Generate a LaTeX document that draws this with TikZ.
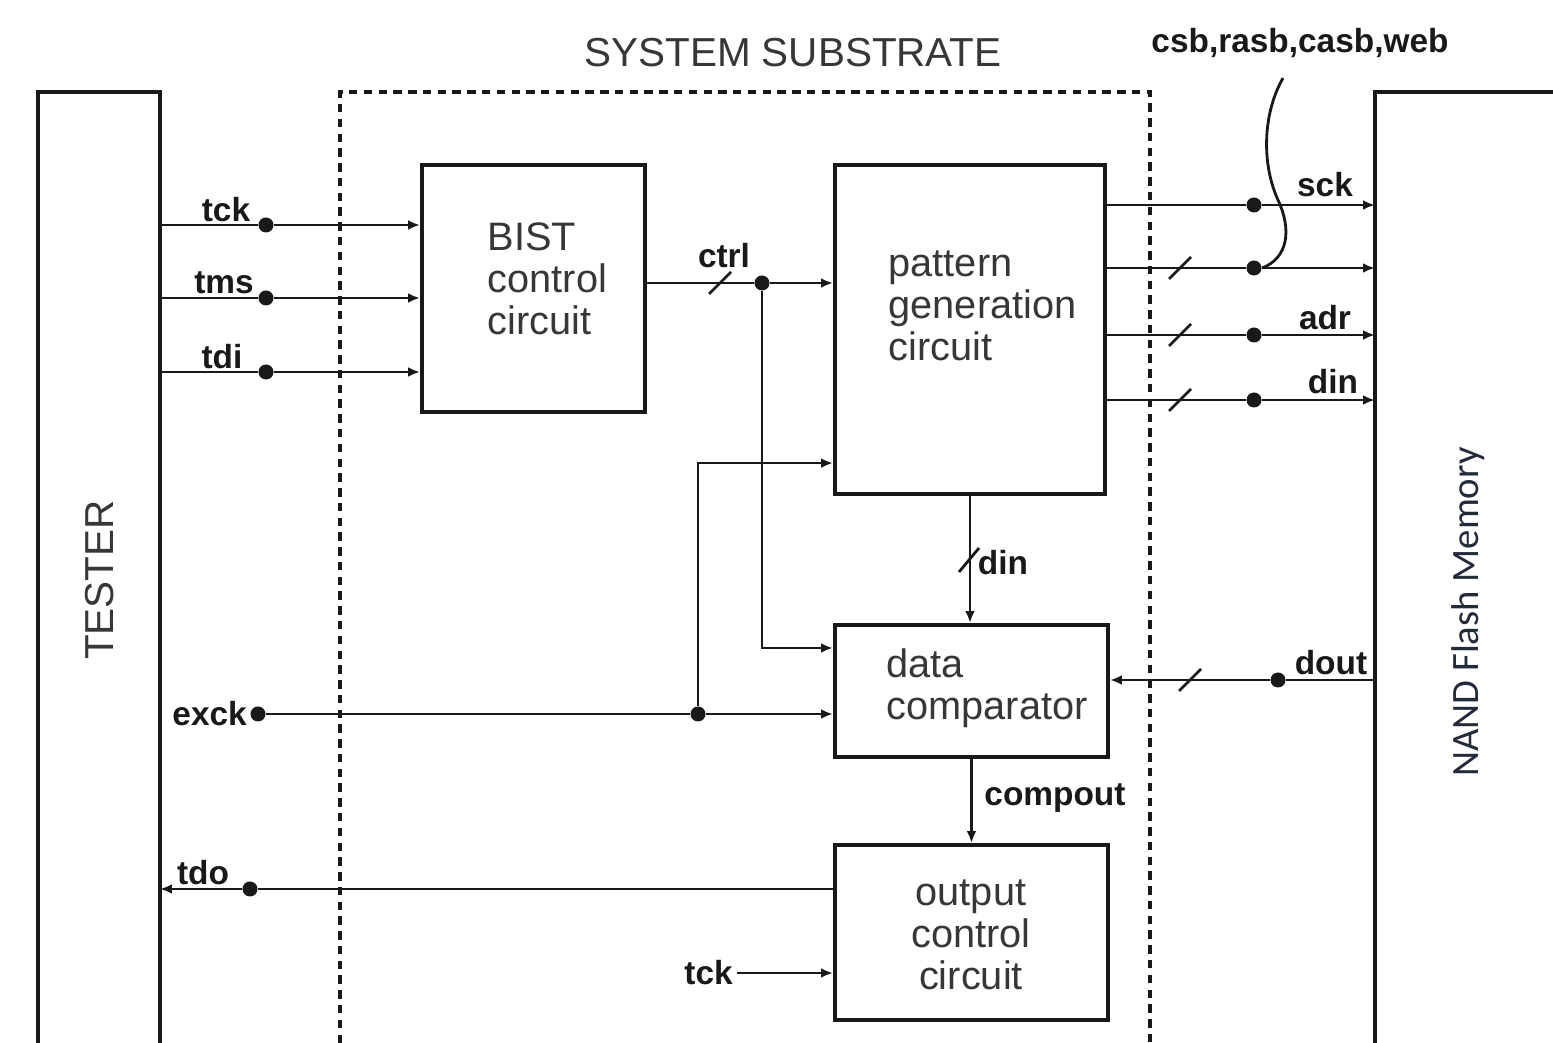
\documentclass[tikz,border=0pt]{standalone}
\usepackage{fontspec}
\setmainfont{Liberation Sans}
\newfontfamily\carl{Carlito}
\usetikzlibrary{arrows.meta}
\definecolor{ink}{RGB}{25,25,25}
\definecolor{txtgray}{RGB}{55,55,55}
\definecolor{nandcol}{RGB}{35,42,58}
\tikzset{
  box/.style={draw=ink, line width=1.1pt},
  blk/.style={draw=ink, line width=1.1pt, inner sep=0pt},
  subs/.style={draw=ink, line width=1pt, dash pattern=on 2.4pt off 1.8pt},
  sig/.style={draw=ink, line width=0.8pt, -{Latex[length=3.4pt,width=2.8pt]}},
  wire/.style={draw=ink, line width=0.8pt},
  jdot/.style={circle, fill=ink, inner sep=0pt, minimum size=0.15cm},
  lbl/.style={font=\fontsize{9.5}{11}\selectfont\bfseries, text=ink, inner sep=1pt},
  btxt/.style={font=\fontsize{11.3}{12}\selectfont, text=txtgray, inner sep=0pt},
  title/.style={font=\fontsize{11.5}{13}\selectfont, text=txtgray, inner sep=0pt},
  nandtxt/.style={font=\carl\fontsize{11}{13}\selectfont, text=nandcol, inner sep=0pt},
  slash/.style={draw=ink, line width=0.8pt}
}
\begin{document}
\begin{tikzpicture}[x=0.01cm, y=-0.01cm]
\useasboundingbox (0,0) rectangle (1553,1043);
\fill[white] (0,0) rectangle (1553,1043);

% outer frames
\draw[box] (38,1043) -- (38,92) -- (160,92) -- (160,1043);
\coordinate (testR) at (160,92);
\draw[box] (1553,92) -- (1375,92) -- (1375,1043);
\coordinate (nandL) at (1375,92);
\draw[subs] (340,1043) -- (340,92) -- (1150,92) -- (1150,1043);

% titles
\node[title] (sstitle) at (793,53) {SYSTEM SUBSTRATE};
\node[title, rotate=90] (tester) at (100,580) {TESTER};
\node[nandtxt, rotate=90] (nandlbl) at (1468,612) {NAND Flash Memory};

% blocks
\node[blk, minimum width=2.23cm, minimum height=2.47cm] (bist) at (533.5,288.5) {};
\node[blk, minimum width=2.70cm, minimum height=3.29cm] (pgc) at (970,329.5) {};
\node[blk, minimum width=2.73cm, minimum height=1.32cm] (dcmp) at (971.5,691) {};
\node[blk, minimum width=2.73cm, minimum height=1.75cm] (occ) at (971.5,932.5) {};

\node[btxt, anchor=west, align=left] (bisttxt) at (487,279) {BIST\\control\\circuit};
\node[btxt, anchor=west, align=left] (pgctxt) at (888,306) {pattern\\generation\\circuit};
\node[btxt, anchor=west, align=left] (dcmptxt) at (886,688) {data\\comparator};
\node[btxt, align=center] (occtxt) at (971,935) {output\\control\\circuit};

% tester inputs
\node[jdot] (tckdot) at (266,225) {};
\node[jdot] (tmsdot) at (266,298) {};
\node[jdot] (tdidot) at (266,372) {};
\draw[sig] (testR |- tckdot) -- (tckdot) -- (bist.west |- tckdot);
\draw[sig] (testR |- tmsdot) -- (tmsdot) -- (bist.west |- tmsdot);
\draw[sig] (testR |- tdidot) -- (tdidot) -- (bist.west |- tdidot);
\node[lbl] (tcklbl) at (226,210) {tck};
\node[lbl] (tmslbl) at (224,283) {tms};
\node[lbl] (tdilbl) at (222,357) {tdi};

% ctrl
\node[jdot] (ctrldot) at (762,283) {};
\draw[sig] (bist.east |- ctrldot) -- (ctrldot) -- (pgc.west |- ctrldot);
\draw[slash] (709,294) -- (731,272);
\node[lbl] (ctrllbl) at (724,256) {ctrl};
\draw[sig] (ctrldot) |- ([yshift=0.43cm]dcmp.west);

% exck
\node[jdot] (exckdot) at (258,714) {};
\node[jdot] (exckj) at (698,714) {};
\node[lbl, anchor=east] (excklbl) at (251,714) {exck};
\draw[sig] (exckdot) -- (exckj) -- (dcmp.west |- exckj);
\draw[sig] (exckj) |- ([yshift=-1.335cm]pgc.west);

% din down
\draw[sig] (pgc.south) -- (pgc.south |- dcmp.north);
\draw[slash] (959,572) -- (979,548);
\node[lbl] (dinv) at (1003,563) {din};

% compout
\draw[sig] (dcmp.south) -- (dcmp.south |- occ.north);
\node[lbl] (compout) at (1055,798) {compout};

% tdo
\node[jdot] (tdodot) at (250,889) {};
\draw[sig] (occ.west |- tdodot) -- (tdodot) -- (testR |- tdodot);
\node[lbl] (tdolbl) at (203,873) {tdo};

% tck bottom
\node[lbl, anchor=east] (tckb) at (737,973) {tck};
\draw[sig] (tckb.east) -- (occ.west |- tckb.east);

% right side outputs
\node[jdot] (sckdot) at (1254,205) {};
\node[jdot] (ctldot) at (1254,268) {};
\node[jdot] (adrdot) at (1254,335) {};
\node[jdot] (dindot) at (1254,400) {};
\draw[sig] (pgc.east |- sckdot) -- (sckdot) -- (nandL |- sckdot);
\draw[sig] (pgc.east |- ctldot) -- (ctldot) -- (nandL |- ctldot);
\draw[sig] (pgc.east |- adrdot) -- (adrdot) -- (nandL |- adrdot);
\draw[sig] (pgc.east |- dindot) -- (dindot) -- (nandL |- dindot);
\draw[slash] (1169,279) -- (1191,257);
\draw[slash] (1169,346) -- (1191,324);
\draw[slash] (1169,411) -- (1191,389);
\node[lbl] (scklbl) at (1325,185) {sck};
\node[lbl] (adrlbl) at (1325,318) {adr};
\node[lbl] (dinlbl) at (1333,382) {din};
\node[lbl] (buslbl) at (1300,43) {csb,rasb,casb,web};
\coordinate (bracetop) at (1283,78);
\draw[wire] (bracetop) .. controls (1262,115) and (1262,165) .. (1278,200)
   .. controls (1292,230) and (1288,258) .. (ctldot.east);

% dout
\node[jdot] (doutdot) at (1278,680) {};
\draw[sig] (nandL |- doutdot) -- (doutdot) -- (dcmp.east |- doutdot);
\draw[slash] (1179,691) -- (1201,669);
\node[lbl] (doutlbl) at (1331,663) {dout};
\end{tikzpicture}
\end{document}
